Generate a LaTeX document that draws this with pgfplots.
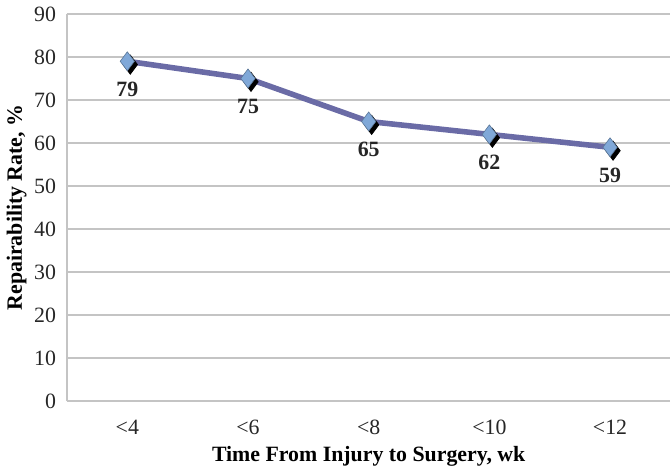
\documentclass[border=0pt]{standalone}
\usepackage{pgfplots}
\pgfplotsset{compat=1.18}
\usepackage{fontspec}
\setmainfont{Liberation Serif}
\definecolor{linec}{HTML}{6A6BA6}
\definecolor{markc}{HTML}{80A8D8}
\definecolor{gridc}{HTML}{C4C4C4}
\begin{document}
\begin{tikzpicture}
\begin{axis}[
    scale only axis,
    width=304pt, height=195pt,
    xmin=-0.5, xmax=4.5,
    ymin=0, ymax=90,
    ytick={0,10,...,90},
    xtick=data,
    xticklabels={<4,<6,<8,<10,<12},
    axis lines*=left,
    axis line style={gridc, line width=0.6pt},
    ymajorgrids,
    grid style={gridc, line width=0.6pt},
    major tick length=3pt,
    ytick style={gridc, line width=0.6pt},
    xtick style={draw=none},
    tick label style={font=\fontsize{11}{13}\selectfont, color=black!85},
    xticklabel style={yshift=-6pt},
    yticklabel style={xshift=-2pt},
    /pgf/number format/assume math mode=true,
    xlabel={\textbf{Time From Injury to Surgery, wk}},
    ylabel={\textbf{Repairability Rate, \%}},
    label style={font=\fontsize{11}{13}\selectfont},
    ylabel style={yshift=-3pt},
    xlabel style={yshift=1pt},
    clip=false,
]
\addplot[linec, line width=2.8pt] coordinates {(0,79) (1,75) (2,65) (3,62) (4,59)};
\addplot[only marks, mark=diamond*, mark size=4.8pt, black,
    mark options={xshift=1.5pt, yshift=-1.7pt}] coordinates {(0,79) (1,75) (2,65) (3,62) (4,59)};
\addplot[only marks, mark=diamond*, mark size=4.8pt,
    mark options={fill=markc, draw=markc!70!black, line width=0.3pt},
    nodes near coords, point meta=explicit symbolic,
    every node near coord/.append style={anchor=north, yshift=-7pt,
        font=\fontsize{11}{13}\selectfont\bfseries, text=black!85}]
    coordinates {(0,79) [79] (1,75) [75] (2,65) [65] (3,62) [62] (4,59) [59]};
\end{axis}
\end{tikzpicture}
\end{document}
